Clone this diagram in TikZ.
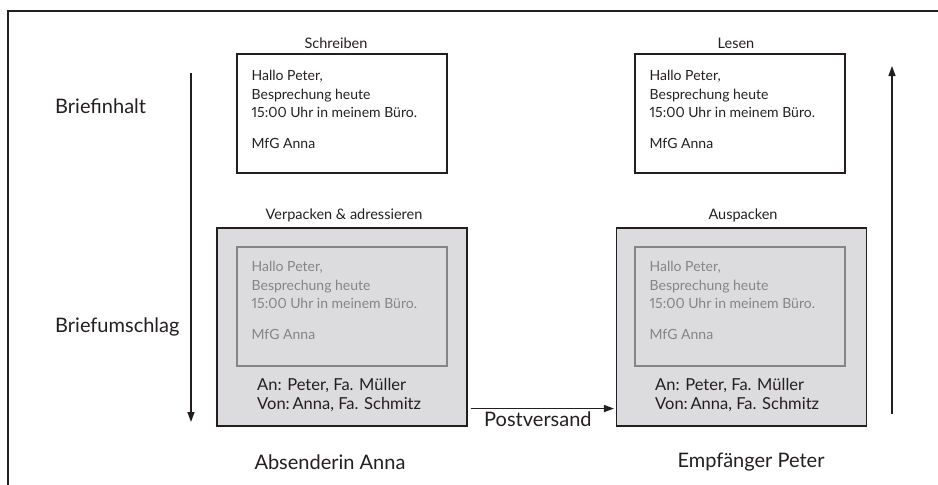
\documentclass[tikz,border=0pt]{standalone}
\usepackage{fontspec}
\setmainfont{Lato}[Numbers=Proportional]
\usetikzlibrary{arrows.meta,calc}
\definecolor{ink}{HTML}{231F20}
\definecolor{envfill}{HTML}{DCDCDE}
\definecolor{faded}{HTML}{858585}

\begin{document}
\begin{tikzpicture}[x=1pt,y=-1pt,
  sheet/.style={draw=ink, line width=1.1pt, minimum width=210pt, minimum height=119pt, inner sep=0pt},
  envelope/.style={draw=ink, line width=1.1pt, fill=envfill, minimum width=250pt, minimum height=198pt, inner sep=0pt},
  insheet/.style={draw=faded, line width=1.1pt, minimum width=210pt, minimum height=119pt, inner sep=0pt},
  letter/.style={anchor=north west, inner sep=0pt, align=left, text=ink, font=\fontsize{14}{18.5}\selectfont},
  caption/.style={inner sep=0pt, text=ink, font=\fontsize{14.5}{17}\selectfont},
  biglabel/.style={inner sep=0pt, text=ink, font=\fontsize{20}{24}\selectfont},
  address/.style={anchor=base west, inner sep=0pt, text=ink, font=\fontsize{16.5}{19}\selectfont},
  flow/.style={draw=ink, line width=1.4pt, -{Triangle[length=10pt,width=7pt]}}
]
\useasboundingbox (0,0) rectangle (938,485);

% page frame
\draw[ink, line width=1.3pt] (8,485) -- (8,11) -- (938,11);

% row labels
\node[biglabel, anchor=west] (lblinhalt) at (55,106) {Briefinhalt};
\node[biglabel, anchor=west] (lblumschlag) at (55,327) {Briefumschlag};

% sender side
\node[caption] (capwrite) at (336,43) {Schreiben};
\node[sheet] (sheetA) at (342,113.5) {};
\node[letter] (textA) at ([shift={(15,17)}]sheetA.north west)
  {Hallo Peter,\\Besprechung heute\\15:00 Uhr in meinem Büro.\\[12pt]MfG Anna};

\node[caption] (capwrap) at (344,215) {Verpacken \& adressieren};
\node[envelope] (envA) at (342,327) {};
\node[insheet] (inA) at (342,306.5) {};
\node[letter, text=faded] (intextA) at ([shift={(15,15)}]inA.north west)
  {Hallo Peter,\\Besprechung heute\\15:00 Uhr in meinem Büro.\\[12pt]MfG Anna};
\node[address] (toA) at (257,390) {An: Peter, Fa. Müller};
\node[address] (fromA) at (257,409) {Von:\,Anna, Fa. Schmitz};

\node[biglabel] (sender) at (330,462) {Absenderin Anna};

% receiver side
\node[caption] (capread) at (736,43) {Lesen};
\node[sheet] (sheetB) at (740,113.5) {};
\node[letter] (textB) at ([shift={(15,17)}]sheetB.north west)
  {Hallo Peter,\\Besprechung heute\\15:00 Uhr in meinem Büro.\\[12pt]MfG Anna};

\node[caption] (capunwrap) at (743,215) {Auspacken};
\node[envelope] (envB) at (741.5,327) {};
\node[insheet] (inB) at (740,306.5) {};
\node[letter, text=faded] (intextB) at ([shift={(15,15)}]inB.north west)
  {Hallo Peter,\\Besprechung heute\\15:00 Uhr in meinem Büro.\\[12pt]MfG Anna};
\node[address] (toB) at (655,390) {An: Peter, Fa. Müller};
\node[address] (fromB) at (655,409) {Von:\,Anna, Fa. Schmitz};

\node[biglabel] (receiver) at (751,462) {Empfänger Peter};

% flow arrows
\coordinate (downtop) at (191,73);
\coordinate (downend) at (191,422);
\draw[flow] (downtop) -- (downend);

\coordinate (upstart) at (892,414);
\coordinate (upend) at (892,66);
\draw[flow] (upstart) -- (upend);

\draw[flow] ([shift={(3,-18)}]envA.south east) -- ([shift={(-2,-18)}]envB.south west)
  node[biglabel, pos=0.47, below=3pt] (post) {Postversand};
\end{tikzpicture}
\end{document}
